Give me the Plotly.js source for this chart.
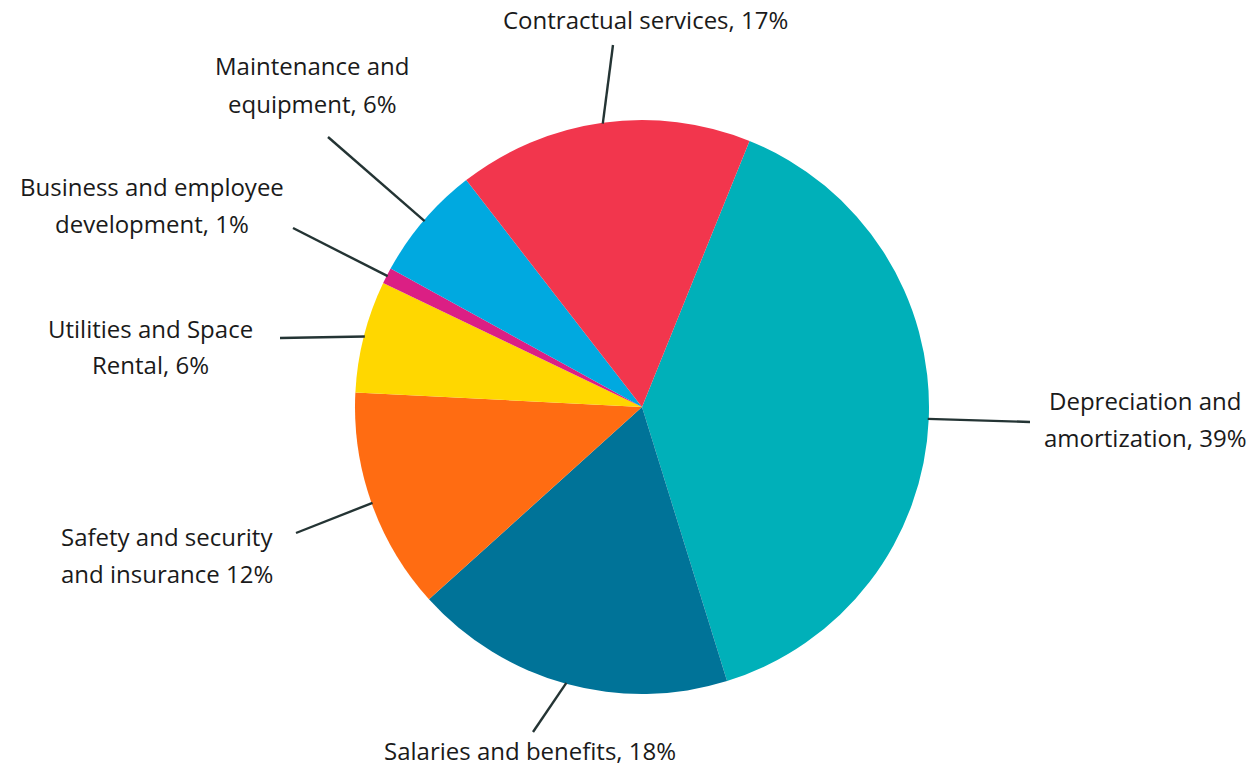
<!DOCTYPE html>
<html>
<head>
<meta charset="utf-8">
<script src="https://cdn.plot.ly/plotly-3.0.1.min.js"></script>
<style>html,body{margin:0;padding:0;background:#fff;}#chart{width:1251px;height:767px;}</style>
</head>
<body>
<div id="chart"></div>
<script>
// Data
const categories = [
  "Depreciation and amortization",
  "Salaries and benefits",
  "Safety and security and insurance",
  "Utilities and Space Rental",
  "Business and employee development",
  "Maintenance and equipment",
  "Contractual services"
];
const values = [39.1, 18.1, 12.5, 6.3, 0.9, 6.5, 16.6];
const labelTexts = [
  "Depreciation and<br>amortization, 39%",
  "Salaries and benefits, 18%",
  "Safety and security<br>and insurance 12%",
  "Utilities and Space<br>Rental, 6%",
  "Business and employee<br>development, 1%",
  "Maintenance and<br>equipment, 6%",
  "Contractual services, 17%"
];
const colors = ["#00B0B9", "#007398", "#FF6C12", "#FFD700", "#DB1F84", "#00A9E0", "#F2364D"];

// Layout (styling / positions, in pixels)
const W = 1251, H = 767;
const CX = 642, CY = 407, R = 287;
const ROT = 22;
const LINE_GAP = 37;
// label centre (x) and first-line y
const labelPos = [
  [1145, 400], [530, 750], [167, 536], [150, 328], [152, 186], [312, 66], [645, 20]
];
// outer end of each leader line
const leaderEnd = [
  [1030, 422], [533, 732], [296, 533], [280, 338], [293, 228], [328, 137], [613, 45]
];

const px2x = p => p / W, px2y = p => 1 - p / H;
const total = values.reduce((a, b) => a + b, 0);
let acc = 0;
const shapes = [];
const annotations = [];
values.forEach((v, i) => {
  const mid = (ROT + (acc + v / 2) / total * 360) * Math.PI / 180;
  acc += v;
  const ax = CX + (R - 1) * Math.sin(mid);
  const ay = CY - (R - 1) * Math.cos(mid);
  shapes.push({
    type: 'line', xref: 'paper', yref: 'paper',
    x0: px2x(ax), y0: px2y(ay), x1: px2x(leaderEnd[i][0]), y1: px2y(leaderEnd[i][1]),
    line: {color: '#243434', width: 2.4}
  });
  labelTexts[i].split('<br>').forEach((t, k) => {
    annotations.push({
      x: px2x(labelPos[i][0]), y: px2y(labelPos[i][1] + k * LINE_GAP),
      xref: 'paper', yref: 'paper', xanchor: 'center', yanchor: 'middle',
      text: t, showarrow: false,
      font: {family: 'Open Sans, Noto Sans, sans-serif', size: 24, color: '#1a1a1a'}
    });
  });
});

const trace = {
  type: 'pie',
  labels: categories,
  values: values,
  sort: false,
  direction: 'clockwise',
  rotation: ROT,
  textinfo: 'none',
  hoverinfo: 'label+percent',
  marker: {colors: colors, line: {width: 0}},
  domain: {x: [(CX - R) / W, (CX + R) / W], y: [1 - (CY + R) / H, 1 - (CY - R) / H]}
};

const layout = {
  width: W, height: H,
  margin: {l: 0, r: 0, t: 0, b: 0},
  paper_bgcolor: '#fff',
  showlegend: false,
  shapes: shapes,
  annotations: annotations
};

Plotly.newPlot('chart', [trace], layout, {displayModeBar: false, staticPlot: true});
</script>
</body>
</html>
